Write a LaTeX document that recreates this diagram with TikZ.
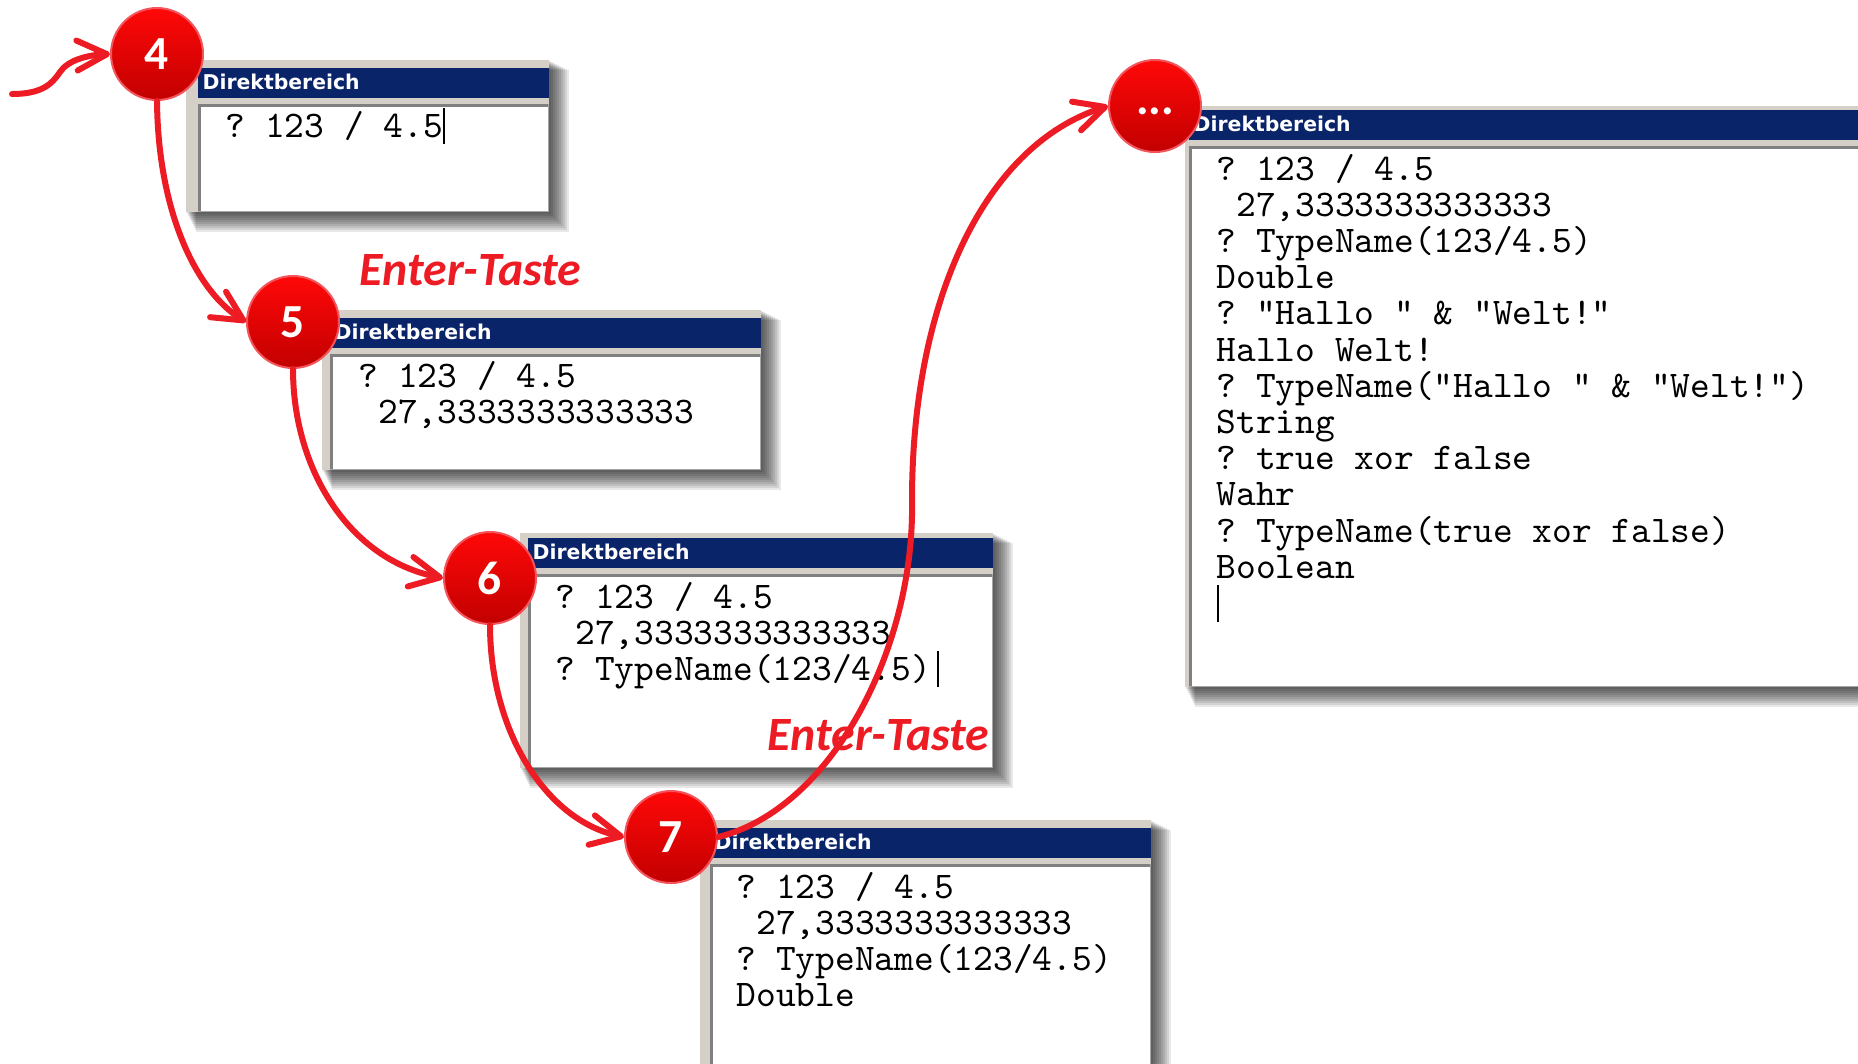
\documentclass[tikz,border=0pt]{standalone}
\usepackage{fontspec}
\usepackage{tikz}
\usetikzlibrary{arrows.meta}
\newfontfamily\calibri{Carlito}
\newfontfamily\tahoma{DejaVu Sans}
\definecolor{stepred}{HTML}{FF0808}
\definecolor{stepdark}{HTML}{C20000}
\definecolor{arrowred}{HTML}{ED1C24}
\definecolor{titlenavy}{HTML}{0A246A}
\definecolor{framegray}{HTML}{D4D0C8}
\definecolor{edgegray}{HTML}{808080}
\newcommand\vbcaret{\rule[-0.19em]{0.2mm}{0.96em}}

\begin{document}
\begin{tikzpicture}[
  x=0.1mm, y=-0.1mm,
  stepnum/.style={circle, minimum size=9.2mm, inner sep=0pt,
              top color=stepred, bottom color=stepdark, draw=arrowred!75!white,
              line width=0.2mm, text=white,
              font=\calibri\bfseries\fontsize{13.5}{14}\selectfont},
  flow/.style={draw=arrowred, line width=0.6mm, line cap=round,
              -{Straight Barb[length=3mm, width=3mm, round]}},
  wintitle/.style={anchor=base west, inner sep=0pt, text=white,
              font=\tahoma\bfseries\fontsize{5.8}{7}\selectfont},
  winline/.style={anchor=base west, inner sep=0pt,
              font=\ttfamily\frenchspacing\fontsize{10.7}{12}\selectfont},
  hint/.style={anchor=base west, inner sep=0pt, text=arrowred,
              font=\calibri\bfseries\itshape\fontsize{13.6}{15}\selectfont},
]
  \useasboundingbox (0,0) rectangle (1858,1063);
  \fill[white] (0,0) rectangle (1858,1063);
  \clip (0,0) rectangle (1858,1063);

  % immediate windows: frame left/top, pane left, title top, right, bottom
  \foreach \xa/\ya/\xl/\yt/\xb/\yb/\nm in {186/60/198/68/549/212/w4,
      322/310/330/318/761/470/w5, 520/533/528/538/993/768/w6,
      700/820/710/828/1151/1100/w7, 1185/106/1189/110/1900/687/wall} {
    \foreach \k in {1,...,10}
      \fill[black, opacity=0.09] (\xa+\k,\ya+\k) rectangle (\xb+2*\k,\yb+2*\k);
    \fill[framegray] (\xa,\ya) rectangle (\xb,\yb);
    \fill[titlenavy] (\xl,\yt) rectangle (\xb,\yt+30);
    \fill[white] (\xl,\yt+36) rectangle (\xb,\yb);
    \draw[edgegray, line width=0.35mm] (\xl+1.5,\yb) -- (\xl+1.5,\yt+37.5) -- (\xb,\yt+37.5);
    \draw[gray!70, line width=0.15mm] (\xl,\yb-0.75) -- (\xb-0.75,\yb-0.75) -- (\xb-0.75,\yt+36);
    \node[wintitle] (\nm-title) at (\xl+4,\yt+21) {Direktbereich};
  }

  % window contents
  \node[winline] (w4-l0) at (225,137) {? 123 / 4.5\vbcaret};

  \node[winline] (w5-l0) at (358,387) {? 123 / 4.5};
  \node[winline] (w5-l1) at (358,423) {\ 27,3333333333333};

  \foreach \txt [count=\i from 0] in {{? 123 / 4.5}, {\ 27,3333333333333},
      {? TypeName(123/4.5)\,\vbcaret}}
    \node[winline] (w6-l\i) at (555,608+36*\i) {\txt};

  \foreach \txt [count=\i from 0] in {{? 123 / 4.5}, {\ 27,3333333333333},
      {? TypeName(123/4.5)}, {Double}}
    \node[winline] (w7-l\i) at (736,898+36.3*\i) {\txt};

  \foreach \txt [count=\i from 0] in {{? 123 / 4.5}, {\ 27,3333333333333},
      {? TypeName(123/4.5)}, {Double}, {? "Hallo " \& "Welt!"}, {Hallo Welt!},
      {? TypeName("Hallo " \& "Welt!")}, {String}, {? true xor false}, {Wahr},
      {? TypeName(true xor false)}, {Boolean}, {\vbcaret}}
    \node[winline] (wall-l\i) at (1216,180+36.2*\i) {\txt};

  \node[hint] (enter1) at (359,285) {Enter-Taste};
  \node[hint] (enter2) at (767,750) {Enter-Taste};

  % numbered steps
  \node[stepnum] (s4) at (157,54) {4};
  \node[stepnum] (s5) at (293,322) {5};
  \node[stepnum] (s6) at (490,578) {6};
  \node[stepnum] (s7) at (671,837) {7};
  \node[stepnum, text height=0.5em, text depth=0pt] (smore) at (1155,106) {...};

  \coordinate (entry) at (12,94);
  \coordinate (turn) at (912,500);

  \draw[flow] (entry) .. controls (42,94) and (52,84) .. (60,72)
    .. controls (68,60) and (88,55) .. (s4.west);
  \draw[flow] (s4.south) .. controls (158,210) and (195,290) .. (s5.west);
  \draw[flow] (s5.south) .. controls (293,470) and (350,560) .. (s6.west);
  \draw[flow] (s6.south) .. controls (490,730) and (545,820) .. (s7.west);
  \draw[flow] (s7.east) .. controls (830,810) and (915,650) .. (turn)
    .. controls (912,300) and (985,145) .. (smore.west);
\end{tikzpicture}
\end{document}
